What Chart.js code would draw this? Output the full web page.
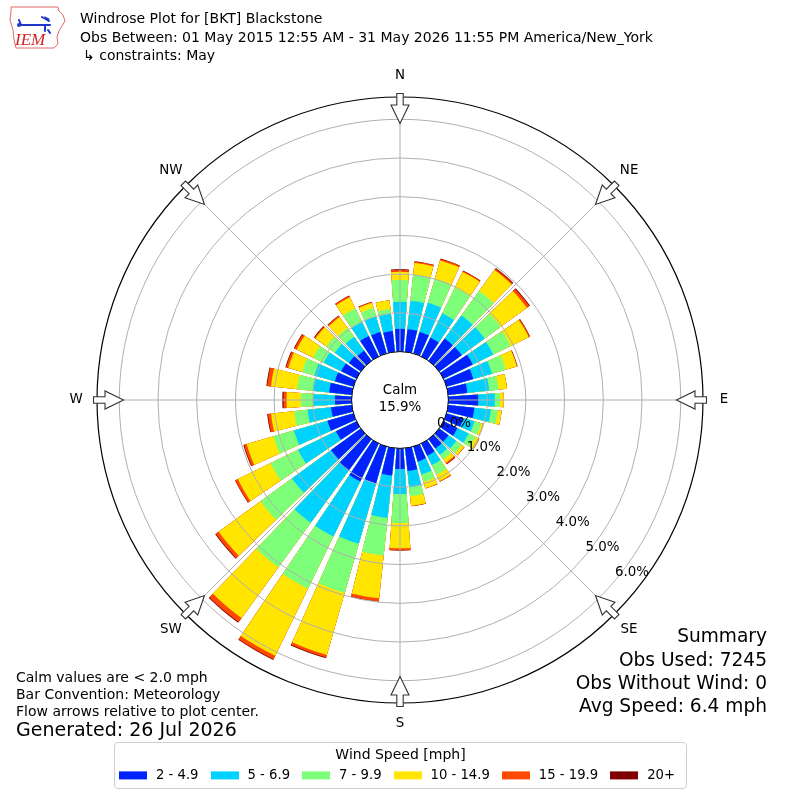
<!DOCTYPE html>
<html>
<head>
<meta charset="utf-8">
<script src="https://cdn.jsdelivr.net/npm/chart.js@4.4.1/dist/chart.umd.min.js"></script>
<style>
  html, body { margin: 0; padding: 0; background: #fff; }
  #wrap { position: relative; width: 800px; height: 800px; overflow: hidden; font-family: "DejaVu Sans", sans-serif; color: #000; }
  #c { position: absolute; left: 0; top: 0; }
  .t { position: absolute; white-space: nowrap; line-height: 1; transform: translateY(-50%); }
  .r { right: 33px; text-align: right; }
  #legend { position: absolute; left: 114px; top: 742px; width: 573px; height: 47px; box-sizing: border-box;
            border: 1px solid #cfcfcf; border-radius: 4px; background: #fff; }
  #legend .title { position: absolute; left: 0; right: 0; top: 11px; text-align: center; font-size: 14px; line-height: 1; transform: translateY(-50%); white-space: nowrap; }
  #legend .items { position: absolute; left: 4px; top: 32px; width: 700px; display: flex; align-items: center; transform: translateY(-50%); font-size: 13.2px; line-height: 1; white-space: nowrap; }
  #legend .sw { flex: 0 0 28px; width: 28px; height: 8px; margin-right: 9px; }
  #legend .lab { flex: 0 0 auto; margin-right: 12px; white-space: nowrap; }
</style>
</head>
<body>
<div id="wrap">
  <canvas id="c" width="800" height="800"></canvas>

  <svg style="position:absolute;left:4px;top:4px" width="64" height="48" viewBox="0 0 64 48">
    <path d="M7 3 L54 3 L55 7 L59 11 L61 17 L58 22 L55 27 L53 33 L54 40 L50 44 L12 44 L10 36 L9 26 L6 16 L7 8 Z" fill="#fff" stroke="#e06a6a" stroke-width="1"/>
    <g stroke="#1f36c8" stroke-width="2" fill="none" stroke-linecap="round">
      <path d="M15 16 L17 21 L46 21"/>
      <path d="M41 21 L41 27"/>
      <path d="M38 13 L45 17"/>
      <path d="M44 26 L46 29"/>
    </g>
    <circle cx="15" cy="21" r="2" fill="#1f36c8"/>
    <path d="M40 12 L46 15 L43 17 Z" fill="#1f36c8"/>
    <text x="11" y="41" font-family="Liberation Serif" font-style="italic" font-size="17" fill="#d42020">IEM</text>
  </svg>

  <div class="t" style="left:80px;top:18px;font-size:14px">Windrose Plot for [BKT] Blackstone</div>
  <div class="t" style="left:80px;top:36.5px;font-size:14px">Obs Between: 01 May 2015 12:55 AM - 31 May 2026 11:55 PM America/New_York</div>
  <div class="t" style="left:83px;top:54.5px;font-size:14px">↳ constraints: May</div>

  <div class="t" style="left:16px;top:677px;font-size:14px">Calm values are &lt; 2.0 mph</div>
  <div class="t" style="left:16px;top:693.5px;font-size:14px">Bar Convention: Meteorology</div>
  <div class="t" style="left:16px;top:711px;font-size:14px">Flow arrows relative to plot center.</div>
  <div class="t" style="left:16px;top:729px;font-size:19px">Generated: 26 Jul 2026</div>

  <div class="t r" style="top:636px;font-size:18.6px">Summary</div>
  <div class="t r" style="top:659.5px;font-size:18.6px">Obs Used: 7245</div>
  <div class="t r" style="top:683px;font-size:18.6px">Obs Without Wind: 0</div>
  <div class="t r" style="top:706px;font-size:18.6px">Avg Speed: 6.4 mph</div>

  <div id="legend">
    <div class="title">Wind Speed [mph]</div>
    <div class="items" id="legendItems"></div>
  </div>
</div>

<script>
// ---------- data (percent of observations) ----------
const directions = [0,10,20,30,40,50,60,70,80,90,100,110,120,130,140,150,160,170,
                    180,190,200,210,220,230,240,250,260,270,280,290,300,310,320,330,340,350];
const speedBins = ['2 - 4.9', '5 - 6.9', '7 - 9.9', '10 - 14.9', '15 - 19.9', '20+'];

const pct2to5   = [0.59,0.59,0.58,0.54,0.71,0.72,0.84,0.72,0.50,0.77,0.68,0.45,0.40,0.30,0.30,0.35,0.40,0.59,
                   0.53,0.71,1.00,1.09,1.00,0.95,0.59,0.70,0.54,0.43,0.59,0.50,0.44,0.38,0.33,0.59,0.58,0.54];
const pct5to7   = [0.70,0.74,0.78,0.70,0.74,0.73,0.59,0.50,0.57,0.43,0.43,0.30,0.32,0.25,0.20,0.27,0.35,0.43,
                   0.65,1.10,1.61,1.58,1.67,1.25,1.09,0.90,0.61,0.56,0.43,0.55,0.50,0.45,0.44,0.40,0.41,0.44];
const pct7to10  = [0.56,0.68,0.64,0.74,0.78,0.51,0.50,0.37,0.24,0.13,0.18,0.18,0.20,0.17,0.15,0.28,0.20,0.23,
                   0.75,0.98,1.32,1.50,1.42,1.00,0.79,0.55,0.35,0.32,0.40,0.33,0.30,0.27,0.28,0.39,0.23,0.13];
const pct10to15 = [0.21,0.30,0.50,0.45,0.67,0.84,0.52,0.30,0.22,0.10,0.10,0.05,0.10,0.08,0.11,0.18,0.17,0.25,
                   0.65,1.11,1.67,1.93,1.62,1.34,0.94,0.72,0.60,0.37,0.68,0.37,0.48,0.35,0.35,0.32,0.14,0.23];
const pct15to20 = [0.05,0.03,0.04,0.03,0.04,0.08,0.03,0.01,0.00,0.00,0.00,0.00,0.01,0.01,0.04,0.02,0.01,0.01,
                   0.05,0.08,0.07,0.10,0.13,0.09,0.07,0.07,0.08,0.08,0.10,0.06,0.06,0.03,0.04,0.04,0.02,0.00];
const pct20plus = [0.02,0.01,0.01,0.01,0.02,0.02,0.01,0.01,0.00,0.00,0.00,0.00,0.00,0.00,0.01,0.00,0.00,0.00,
                   0.01,0.01,0.02,0.02,0.02,0.02,0.01,0.02,0.02,0.03,0.02,0.02,0.02,0.02,0.01,0.01,0.01,0.00];

const ringTicks = [0, 1, 2, 3, 4, 5, 6];
const compassLabels = ['N', 'NE', 'E', 'SE', 'S', 'SW', 'W', 'NW'];
const calmPct = 15.9;

// ---------- style ----------
const binColors = ['#0022ff', '#00d2ff', '#7dff7a', '#ffe500', '#ff4800', '#800000'];
const R_MIN = -1.25;     // puts 0 % at the edge of the calm circle
const R_MAX = 6.575;
const BAR_DEG = 8, GAP_DEG = 2;
const FONT = '"DejaVu Sans", sans-serif';

// ---------- build stacked (cumulative) table ----------
const bins = [pct2to5, pct5to7, pct7to10, pct10to15, pct15to20, pct20plus];
const cumulative = [];
let running = directions.map(() => 0);
bins.forEach(arr => {
  running = running.map((v, i) => v + arr[i]);
  cumulative.push(running.slice());
});

const labels = [];
directions.forEach(d => { labels.push(String(d)); labels.push(''); });

const datasets = cumulative.map((vals, k) => ({
  label: speedBins[k],
  data: vals.flatMap(v => [v, R_MIN]),      // each bar followed by an empty gap slot
  backgroundColor: binColors[k],
  borderWidth: 0,
  angle: (c) => (c.dataIndex % 2 === 0 ? BAR_DEG : GAP_DEG)
}));

// ---------- decorations ----------
const windroseDecor = {
  id: 'windroseDecor',
  afterDatasetsDraw(chart) {
    const s = chart.scales.r, ctx = chart.ctx;
    const R = s.drawingArea;
    ctx.save();
    ctx.strokeStyle = '#b0b0b0';
    ctx.lineWidth = 1;
    for (let k = 0; k < 8; k++) {
      const a = (k * 45 - 90) * Math.PI / 180;
      ctx.beginPath();
      ctx.moveTo(s.xCenter, s.yCenter);
      ctx.lineTo(s.xCenter + R * Math.cos(a), s.yCenter + R * Math.sin(a));
      ctx.stroke();
    }
    ctx.restore();
  },
  afterDraw(chart) {
    const s = chart.scales.r, ctx = chart.ctx;
    const cx = s.xCenter, cy = s.yCenter, R = s.drawingArea;
    const r0 = s.getDistanceFromCenterForValue(0);
    ctx.save();
    // calm circle
    ctx.beginPath();
    ctx.arc(cx, cy, r0, 0, Math.PI * 2);
    ctx.fillStyle = '#fff';
    ctx.fill();
    ctx.strokeStyle = '#000';
    ctx.lineWidth = 1;
    ctx.stroke();
    ctx.fillStyle = '#000';
    ctx.font = '13.4px ' + FONT;
    ctx.textAlign = 'center';
    ctx.textBaseline = 'middle';
    ctx.fillText('Calm', cx, cy - 9);
    ctx.fillText(calmPct.toFixed(1) + '%', cx, cy + 8);

    // radial tick labels
    const ta = 40 * Math.PI / 180;
    ctx.textAlign = 'left';
    ringTicks.forEach(v => {
      const r = s.getDistanceFromCenterForValue(v);
      ctx.fillText(v.toFixed(1) + '%', cx + r * Math.cos(ta), cy + r * Math.sin(ta) - 8);
    });

    // direction arrows and labels
    ctx.textAlign = 'center';
    compassLabels.forEach((lab, k) => {
      const a = (k * 45 - 90) * Math.PI / 180;
      const ca = Math.cos(a), sa = Math.sin(a);
      const pts = [[R + 3.5, -3.2], [R - 8, -3.2], [R - 8, -9], [R - 26.5, 0], [R - 8, 9], [R - 8, 3.2], [R + 3.5, 3.2]];
      ctx.beginPath();
      pts.forEach(([u, w], i) => {
        const x = cx + u * ca - w * sa, y = cy + u * sa + w * ca;
        if (i === 0) ctx.moveTo(x, y); else ctx.lineTo(x, y);
      });
      ctx.closePath();
      ctx.fillStyle = '#fff';
      ctx.fill();
      ctx.strokeStyle = '#333';
      ctx.lineWidth = 1.1;
      ctx.stroke();
      ctx.fillStyle = '#000';
      ctx.fillText(lab, cx + (R + 21) * ca, cy + (R + 21) * sa);
    });
    ctx.restore();
  }
};

new Chart(document.getElementById('c'), {
  type: 'polarArea',
  data: { labels, datasets },
  options: {
    responsive: false,
    animation: false,
    events: [],
    layout: { padding: { left: 97, right: 97, top: 97, bottom: 97 } },
    plugins: { legend: { display: false }, tooltip: { enabled: false } },
    scales: {
      r: {
        min: R_MIN,
        max: R_MAX,
        startAngle: -BAR_DEG / 2,
        ticks: { display: false },
        afterBuildTicks: (sc) => { sc.ticks = ringTicks.concat([R_MAX]).map(v => ({ value: v })); },
        grid: {
          circular: true,
          z: 1,
          color: (c) => {
            const v = c.tick ? c.tick.value : 0;
            if (v <= 0) return 'rgba(0,0,0,0)';
            return v >= R_MAX ? '#000' : '#b0b0b0';
          },
          lineWidth: (c) => (c.tick && c.tick.value >= R_MAX ? 1.2 : 1)
        },
        angleLines: { display: false },
        pointLabels: { display: false }
      }
    }
  },
  plugins: [windroseDecor]
});

// ---------- legend ----------
const items = document.getElementById('legendItems');
speedBins.forEach((lab, k) => {
  const sw = document.createElement('span');
  sw.className = 'sw';
  sw.style.background = binColors[k];
  const tx = document.createElement('span');
  tx.className = 'lab';
  tx.textContent = lab;
  items.appendChild(sw);
  items.appendChild(tx);
});
</script>
</body>
</html>
